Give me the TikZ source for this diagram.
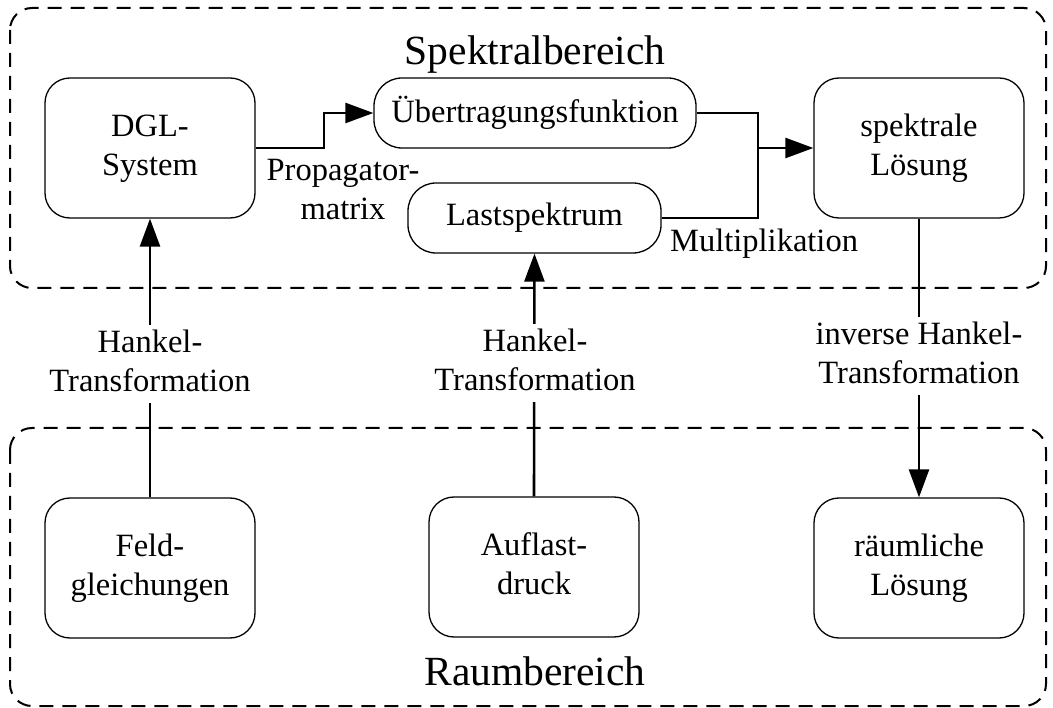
\documentclass[tikz,border=0pt]{standalone}
\usepackage{fontspec}
\setmainfont{Liberation Serif}
\usetikzlibrary{arrows.meta}
\newcommand\ml[1]{\begin{tabular}{@{}c@{}}#1\end{tabular}}
\begin{document}
\begin{tikzpicture}[x=1pt,y=-1pt,
  every node/.style={font=\fontsize{32.5}{39}\selectfont, inner sep=0pt},
  blk/.style={draw, line width=1.3pt, rounded corners=25pt, minimum width=210pt, minimum height=140pt},
  pill/.style={draw, line width=1.3pt, rounded corners=28pt, minimum height=70pt},
  conn/.style={line width=2.6pt},
  arr/.style={conn, -{Triangle[length=28pt,width=20pt]}},
  region/.style={line width=2pt, dash pattern=on 14pt off 9pt, rounded corners=22pt},
  lab/.style={fill=white, inner xsep=2pt, inner ysep=0pt},
  title/.style={font=\fontsize{41.5}{48}\selectfont}]
\useasboundingbox (0,0) rectangle (1053,708);
% regions
\draw[region] (10,8) rectangle (1046,288);
\draw[region] (10,428) rectangle (1046,706);
\node[title, anchor=base] (spek) at (535,65) {Spektralbereich};
\node[title, anchor=base] (raum) at (535,685) {Raumbereich};
% boxes
\node[blk] (dgl) at (150,148) {\ml{DGL-\\System}};
\node[pill, minimum width=322pt] (ue) at (535,113) {Übertragungsfunktion};
\node[pill, minimum width=253pt] (ls) at (534.5,218) {Lastspektrum};
\node[blk] (sl) at (919,148) {\ml{spektrale\\Lösung}};
\node[blk] (feld) at (150,568) {\ml{Feld-\\gleichungen}};
\node[blk] (auf) at (534,567) {\ml{Auflast-\\druck}};
\node[blk] (rl) at (919,568) {\ml{räumliche\\Lösung}};
% connectors
\coordinate (k1) at (324,148);
\coordinate (j) at (758,148);
\draw[arr] (dgl.east) -- (k1) |- (ue.west);
\draw[conn] (ue.east) -| (j) |- (ls.east);
\draw[arr] (j) -- (sl.west);
\draw[arr] (feld.north) -- (dgl.south);
\draw[arr] (auf.north) -- (ls.south);
\draw[arr] (sl.south) -- (rl.north);
% labels
\node (prop) at (343,192) {\ml{Propagator-\\matrix}};
\node[anchor=base west] (mul) at (670,252) {Multiplikation};
\node[lab] (h1) at (150,364) {\ml{Hankel-\\Transformation}};
\node[lab] (h2) at (535,363) {\ml{Hankel-\\Transformation}};
\node[lab] (h3) at (919,356) {\ml{inverse Hankel-\\Transformation}};
\end{tikzpicture}
\end{document}
